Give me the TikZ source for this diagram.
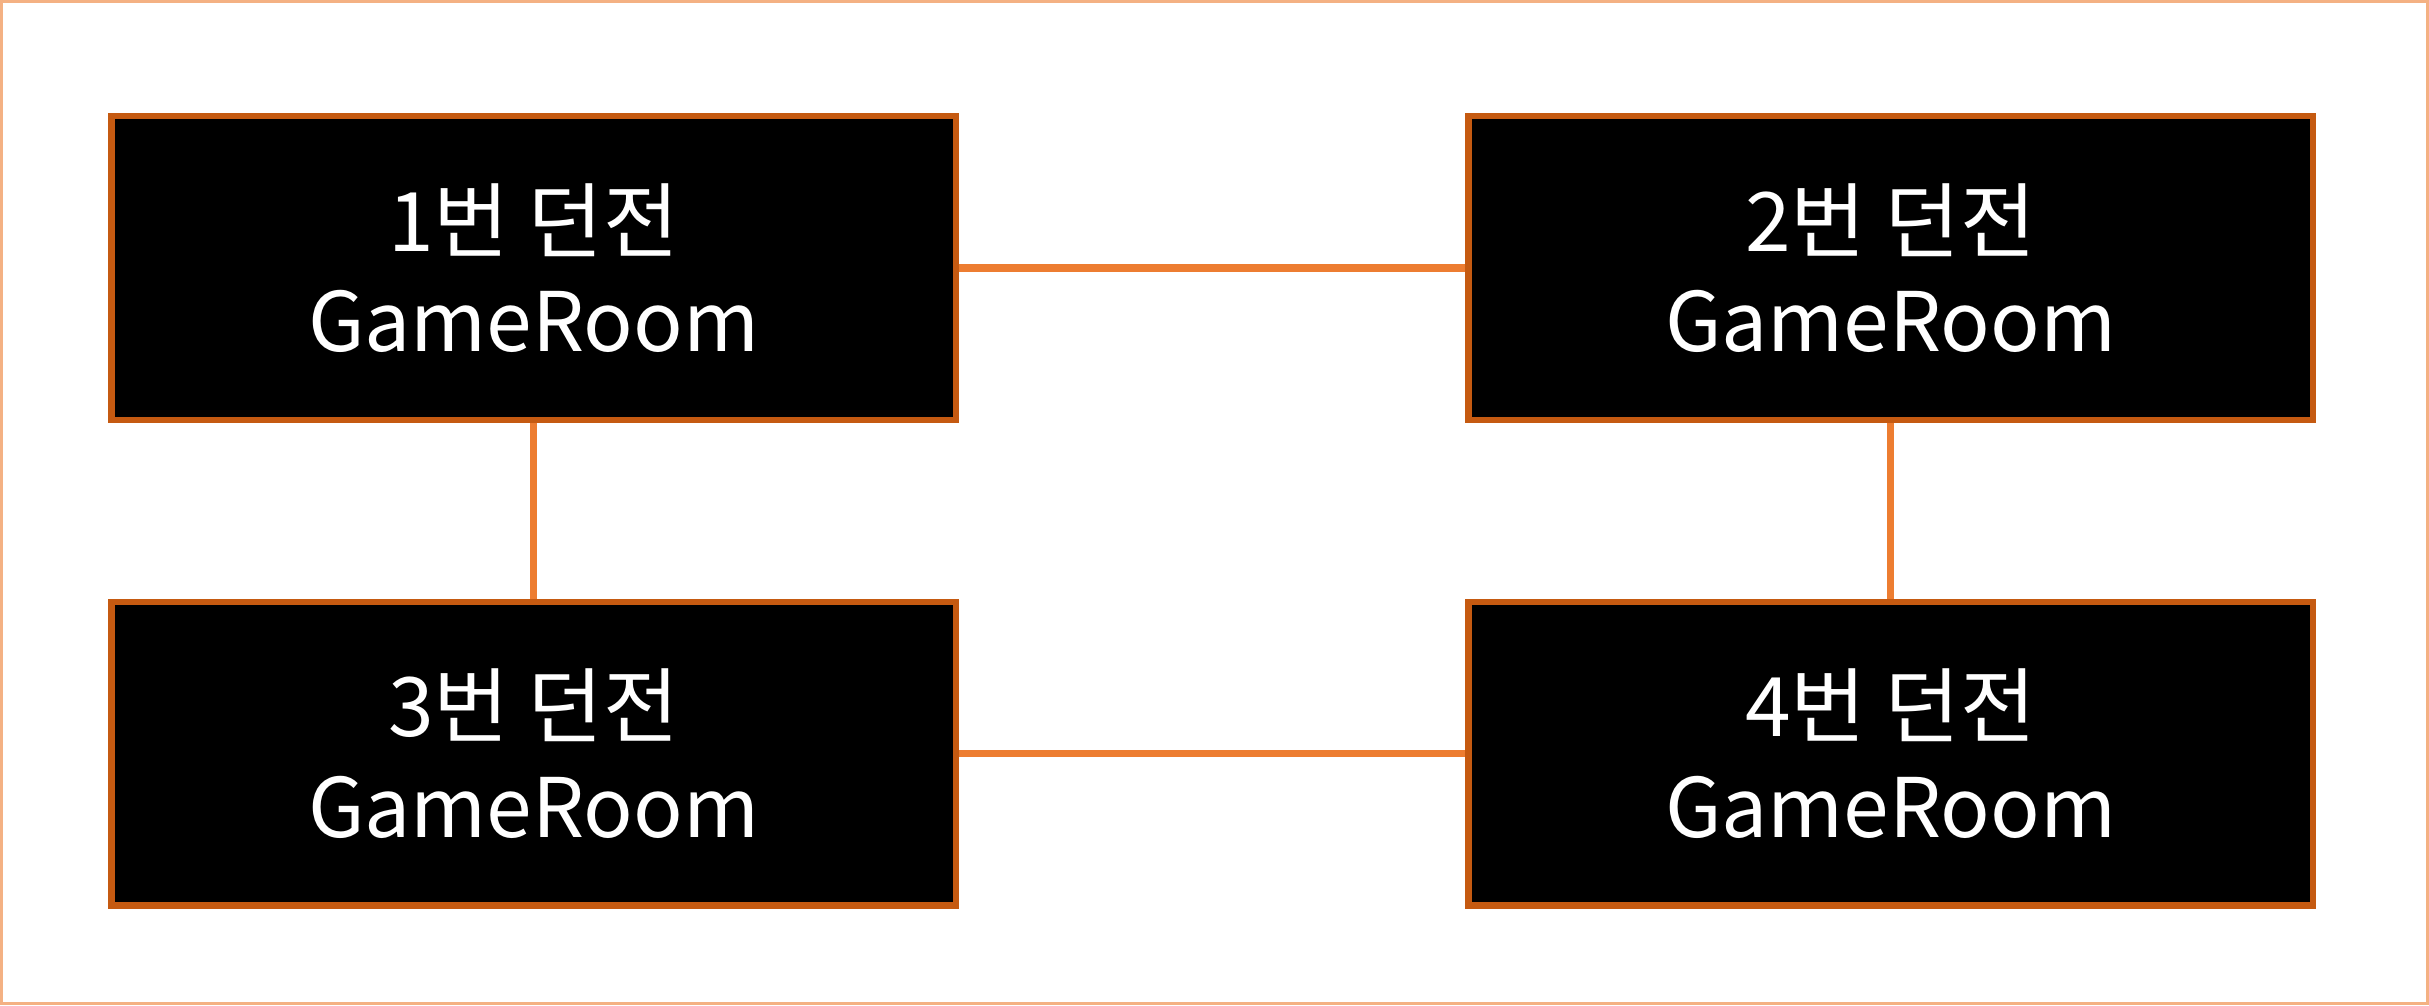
\documentclass[tikz,border=0pt]{standalone}
\usepackage{fontspec}
\setmainfont{Noto Sans CJK KR}
\definecolor{boxborder}{HTML}{C55A11}
\definecolor{linkcol}{HTML}{ED7D31}
\definecolor{framecol}{HTML}{F4B183}
\begin{document}
\begin{tikzpicture}[x=0.75pt,y=-0.75pt,
  roombox/.style={draw=boxborder,fill=black,line width=3pt,minimum width=408.75pt,minimum height=147pt,inner sep=0pt,text=white,align=center,font=\fontsize{39.75}{48.75}\selectfont},
  link/.style={draw=linkcol,line width=3.5pt}]
\useasboundingbox (0,0) rectangle (1568,649);
\draw[framecol,line width=1.5pt] (1,1) rectangle (1567,648);
\node[roombox] (r1) at (344.5,173) {1번 던전\\GameRoom};
\node[roombox] (r2) at (1220.5,173) {2번 던전\\GameRoom};
\node[roombox] (r3) at (344.5,486.5) {3번 던전\\GameRoom};
\node[roombox] (r4) at (1220.5,486.5) {4번 던전\\GameRoom};
\draw[link] (r1.east) -- (r2.west);
\draw[link] (r3.east) -- (r4.west);
\draw[link] (r1.south) -- (r3.north);
\draw[link] (r2.south) -- (r4.north);
\end{tikzpicture}
\end{document}
